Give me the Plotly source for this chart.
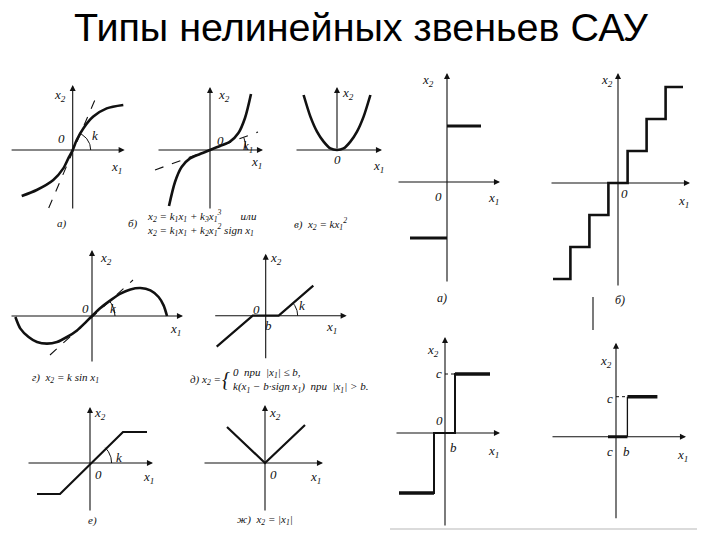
import numpy as np
import plotly.graph_objects as go

W, H = 720, 540
S = 20.0  # pixels per data unit in every small panel

# ---------------- data (units = panel units) ----------------
# а) smooth saturation curve
sat_x = [-2.55, -1.8, -0.97, -0.47, -0.22, 0, 0.2, 0.53, 1.03, 1.7, 2.53]
sat_y = [-2.3, -2.0, -1.5, -0.92, -0.42, 0, 0.5, 1.08, 1.67, 2.08, 2.25]
sat_tan_x = [-1.2, 1.15]
sat_tan_y = [-2.9, 2.6]
# б) cubic curve
cub_x = [-2.05, -1.75, -1.42, -1.0, -0.5, 0, 0.5, 1.0, 1.42, 1.75, 2.05]
cub_y = [-2.8, -1.6, -0.85, -0.42, -0.2, 0, 0.2, 0.42, 0.85, 1.6, 2.8]
cub_tan_x = [-2.75, 2.4]
cub_tan_y = [-1.0, 0.9]
# в) parabola
par_x = [-1.67, -1.33, -1.0, -0.67, -0.33, 0, 0.33, 0.67, 1.0, 1.33, 1.67]
par_y = [2.75, 1.67, 0.92, 0.42, 0.08, 0, 0.08, 0.42, 0.92, 1.67, 2.75]
# г) sine
sin_x = [-3.83, -3.58, -3.17, -2.75, -2.25, -1.75, -1.25, -0.75, -0.33, 0,
         0.42, 0.92, 1.42, 1.92, 2.42, 2.92, 3.33, 3.58, 3.75]
sin_y = [-0.05, -0.63, -1.05, -1.3, -1.38, -1.3, -1.05, -0.72, -0.33, 0,
         0.4, 0.78, 1.12, 1.33, 1.4, 1.28, 0.95, 0.53, 0]
sin_tan_x = [-2.1, 2.05]
sin_tan_y = [-1.95, 1.8]
# д) dead zone
dz_x = [-2.45, -0.65, 0.65, 2.38]
dz_y = [-1.55, 0, 0, 1.5]
# е) linear with saturation
ls_x = [-2.65, -1.5, 1.65, 2.85]
ls_y = [-1.55, -1.55, 1.55, 1.55]
# ж) absolute value
abs_x = [-1.9, 0, 2.0]
abs_y = [1.8, 0, 1.9]
# right а) ideal relay
rel_up_x = [0, 1.7]
rel_up_y = [2.8, 2.8]
rel_lo_x = [-1.85, 0]
rel_lo_y = [-2.8, -2.8]
# right б) staircase (quantizer)
st_x = [-3.25, -2.38, -2.38, -1.43, -1.43, -0.48, -0.48, 0.48, 0.48, 1.43, 1.43, 2.38, 2.38, 3.25]
st_y = [-4.8, -4.8, -3.2, -3.2, -1.6, -1.6, 0, 0, 1.6, 1.6, 3.2, 3.2, 4.8, 4.8]
# right в) relay with dead zone
rdz_x = [-2.3, -0.55, -0.55, 0.5, 0.5, 2.25]
rdz_y = [-3.0, -3.0, 0, 0, 2.95, 2.95]
rdz_c = 2.95
# right г) one-sided relay
one_zero_x = [-0.4, 0.57]
one_zero_y = [0, 0]
one_up_x = [0.57, 2.07]
one_up_y = [2.0, 2.0]
one_b = 0.57
one_c = 2.0

# angle arcs: (radius, start deg, end deg, centre x)
arcs = {
    "A": (0.9, 0, 66, 0.0),
    "B": (1.8, 0, 20, 0.0),
    "D": (1.15, 0, 42, 0.0),
    "E": (0.95, 0, 41, 0.65),
    "F": (1.08, 0, 45, 0.0),
}

# ---------------- panel layout (pixel origin, axis extents in units) ----------------
panels = {
    "A": dict(o=(72.7, 150), xa=(-3.13, 2.6), ya=(-3.0, 3.25)),
    "B": dict(o=(210, 150), xa=(-2.65, 2.65), ya=(-3.0, 3.15)),
    "C": dict(o=(337, 150), xa=(-2.1, 2.25), ya=(0, 3.15)),
    "D": dict(o=(92, 316), xa=(-4.1, 4.55), ya=(-2.35, 3.3)),
    "E": dict(o=(265.7, 315.7), xa=(-2.6, 4.05), ya=(-2.2, 3.1)),
    "F": dict(o=(90, 463), xa=(-3.15, 3.15), ya=(-2.45, 2.8)),
    "G": dict(o=(265, 463), xa=(-3.1, 2.9), ya=(-2.45, 2.9)),
    "H": dict(o=(447, 182), xa=(-2.5, 2.65), ya=(-5.05, 5.45)),
    "I": dict(o=(618, 183), xa=(-3.4, 3.6), ya=(-5.2, 5.5)),
    "J": dict(o=(445, 433), xa=(-2.5, 2.75), ya=(-4.7, 4.8)),
    "K": dict(o=(616, 436.7), xa=(-3.25, 3.5), ya=(-4.15, 4.7)),
}

fig = go.Figure()
layout_axes = {}
annotations = []
ref = {}
for i, (name, p) in enumerate(panels.items(), start=1):
    ox, oy = p["o"]
    L, R = max(0, ox - 120), min(W, ox + 120)
    T, B = max(0, oy - 120), min(H, oy + 120)
    xn = "xaxis" if i == 1 else f"xaxis{i}"
    yn = "yaxis" if i == 1 else f"yaxis{i}"
    xr = "x" if i == 1 else f"x{i}"
    yr = "y" if i == 1 else f"y{i}"
    layout_axes[xn] = dict(domain=[L / W, R / W], range=[(L - ox) / S, (R - ox) / S],
                           visible=False, fixedrange=True, anchor=yr)
    layout_axes[yn] = dict(domain=[1 - B / H, 1 - T / H], range=[(oy - B) / S, (oy - T) / S],
                           visible=False, fixedrange=True, anchor=xr)
    ref[name] = (xr, yr)
    # coordinate axes with arrow heads
    annotations.append(dict(x=p["xa"][1], y=0, ax=p["xa"][0], ay=0, xref=xr, yref=yr,
                            axref=xr, ayref=yr, showarrow=True, arrowhead=2, arrowsize=1.1,
                            arrowwidth=1.1, arrowcolor="#111", text=""))
    annotations.append(dict(x=0, y=p["ya"][1], ax=0, ay=p["ya"][0], xref=xr, yref=yr,
                            axref=xr, ayref=yr, showarrow=True, arrowhead=2, arrowsize=1.1,
                            arrowwidth=1.1, arrowcolor="#111", text=""))


def line(name, x, y, width=2.6, dash="solid", shape="linear", color="#111"):
    xr, yr = ref[name]
    fig.add_trace(go.Scatter(x=x, y=y, mode="lines", xaxis=xr, yaxis=yr,
                             line=dict(color=color, width=width, dash=dash, shape=shape,
                                       smoothing=0.8),
                             hoverinfo="skip", showlegend=False))


line("A", sat_x, sat_y, shape="spline")
line("A", sat_tan_x, sat_tan_y, width=1.1, dash="dash")
line("B", cub_x, cub_y, shape="spline")
line("B", cub_tan_x, cub_tan_y, width=1.1, dash="dash")
line("C", par_x, par_y, shape="spline")
line("D", sin_x, sin_y, shape="spline")
line("D", sin_tan_x, sin_tan_y, width=1.1, dash="dash")
line("E", dz_x, dz_y, width=2.2)
line("F", ls_x, ls_y, width=2.2)
line("G", abs_x, abs_y, width=2.2)
line("H", rel_up_x, rel_up_y, width=3)
line("H", rel_lo_x, rel_lo_y, width=3)
line("I", st_x, st_y, width=2.6)
line("J", rdz_x, rdz_y, width=2)
line("J", rdz_x[:2], rdz_y[:2], width=3.4)
line("J", rdz_x[-2:], rdz_y[-2:], width=3.4)
line("J", [0, rdz_x[3]], [rdz_c, rdz_c], width=1, dash="dot")
line("K", one_zero_x, one_zero_y, width=3)
line("K", [one_b, one_b], [0, one_c], width=1.3)
line("K", one_up_x, one_up_y, width=3.4)
line("K", [0, one_b], [one_c, one_c], width=1, dash="dot")

for name, (r, a0, a1, cx) in arcs.items():
    t = np.radians(np.linspace(a0, a1, 20))
    line(name, list(cx + r * np.cos(t)), list(r * np.sin(t)), width=1)

# ---------------- labels inside panels (units) ----------------
X1 = "x<sub>1</sub>"
X2 = "x<sub>2</sub>"
labels = {
    "A": [(X2, -0.63, 2.75), ("0", -0.58, 0.6), ("k", 1.1, 0.75), (X1, 2.2, -0.85)],
    "B": [(X2, 0.7, 2.75), ("0", 0.5, 0.5), ("k<sub>1</sub>", 1.9, 0.2), (X1, 2.3, -0.6)],
    "C": [(X2, 0.55, 2.85), ("0", 0.0, -0.45), (X1, 2.05, -0.8)],
    "D": [(X2, 0.7, 2.9), ("0", -0.35, 0.4), ("k", 1.05, 0.4), (X1, 4.15, -0.65)],
    "E": [(X2, 0.5, 2.87), ("0", -0.45, 0.3), ("b", 0.13, -0.5), ("k", 1.8, 0.53), (X1, 3.3, -0.6)],
    "F": [(X2, 0.5, 2.5), ("0", 0.4, -0.55), ("k", 1.45, 0.3), (X1, 2.9, -0.7)],
    "G": [(X2, 0.5, 2.5), ("0", 0.4, -0.55), (X1, 2.5, -0.7)],
    "H": [(X2, -0.95, 5.1), ("0", -0.45, -0.7), (X1, 2.3, -0.8)],
    "I": [(X2, -0.55, 5.15), ("0", 0.3, -0.5), (X1, 3.25, -0.9)],
    "J": [(X2, -0.6, 4.15), ("c", -0.3, 2.98), ("0", -0.3, 0.65), ("b", 0.42, -0.7), (X1, 2.4, -0.9)],
    "K": [(X2, -0.5, 3.75), ("c", -0.3, 1.93), ("c", -0.3, -0.75), ("b", 0.5, -0.75), (X1, 3.3, -0.95)],
}
lab_font = dict(family="Liberation Serif", size=13, color="#111", style="italic")
for name, items in labels.items():
    xr, yr = ref[name]
    for txt, x, y in items:
        annotations.append(dict(x=x, y=y, xref=xr, yref=yr, text=txt, showarrow=False,
                                font=lab_font))

# ---------------- captions (pixel positions on the page) ----------------
cap_font = dict(family="Liberation Serif", size=11, color="#111", style="italic")


def cap(txt, px, py, anchor="center", size=11):
    annotations.append(dict(x=px / W, y=1 - py / H, xref="paper", yref="paper", text=txt,
                            showarrow=False, xanchor=anchor, yanchor="middle",
                            align="left", font=dict(cap_font, size=size)))


cap("а)", 62, 223)
cap("б)", 133, 224)
cap("x<sub>2</sub> = k<sub>1</sub>x<sub>1</sub> + k<sub>3</sub>x<sub>1</sub><sup>3</sup>       или<br>"
    "x<sub>2</sub> = k<sub>1</sub>x<sub>1</sub> + k<sub>2</sub>x<sub>1</sub><sup>2</sup> sign x<sub>1</sub>",
    145, 223, anchor="left", size=11)
cap("в)  x<sub>2</sub> = kx<sub>1</sub><sup>2</sup>", 292, 224, anchor="left")
cap("г)  x<sub>2</sub> = k sin x<sub>1</sub>", 30, 378, anchor="left")
cap("д) x<sub>2</sub> =", 188, 380, anchor="left")
cap("{", 226, 379, size=20)
cap("0  при  |x<sub>1</sub>| ≤ b,<br>k(x<sub>1</sub> − b·sign x<sub>1</sub>)  при  |x<sub>1</sub>| > b.",
    231, 380, anchor="left", size=11)
cap("е)", 92, 520)
cap("ж)  x<sub>2</sub> = |x<sub>1</sub>|", 265, 520)
cap("а)", 442, 298, size=12)
cap("б)", 620, 300, size=12)

# title
annotations.append(dict(x=361 / W, y=1 - 27 / H, xref="paper", yref="paper",
                        text="Типы нелинейных звеньев САУ", showarrow=False,
                        xanchor="center", yanchor="middle",
                        font=dict(family="Liberation Sans", size=39.5, color="#000")))

shapes = [
    dict(type="line", xref="paper", yref="paper", x0=390 / W, x1=697 / W,
         y0=1 - 529 / H, y1=1 - 529 / H, line=dict(color="#cfcfcf", width=1.5)),
    dict(type="line", xref="paper", yref="paper", x0=593 / W, x1=593 / W,
         y0=1 - 297 / H, y1=1 - 330 / H, line=dict(color="#222", width=1.2)),
]

fig.update_layout(width=W, height=H, margin=dict(l=0, r=0, t=0, b=0),
                  paper_bgcolor="white", plot_bgcolor="rgba(0,0,0,0)",
                  annotations=annotations, shapes=shapes, showlegend=False,
                  **layout_axes)
fig.write_html("out.html", config={"displayModeBar": False},
               post_script="document.body.style.margin='0';document.body.style.overflow='hidden';")
